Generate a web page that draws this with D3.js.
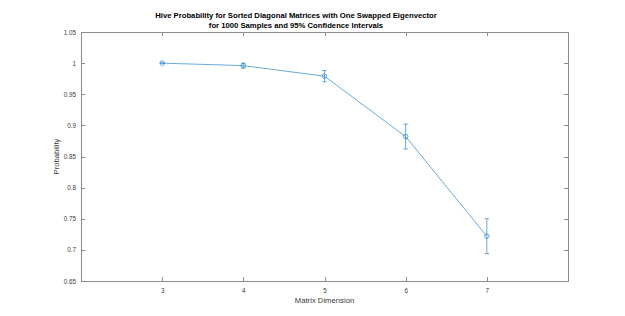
<!DOCTYPE html>
<html><head><meta charset="utf-8">
<script src="https://cdn.jsdelivr.net/npm/d3@7"></script>
<style>body{margin:0;background:#fff}svg{display:block}text{font-family:"Liberation Sans",Arial,sans-serif}</style>
</head><body><svg id="c" width="625" height="316"></svg>
<script>
const dims = [3, 4, 5, 6, 7];
const probs = [1.0, 0.996, 0.979, 0.882, 0.722];
const errs = [0.0, 0.004, 0.009, 0.020, 0.028];
const xTicks = [3, 4, 5, 6, 7];
const yTicks = [0.65, 0.7, 0.75, 0.8, 0.85, 0.9, 0.95, 1, 1.05];
const titleLines = ["Hive Probability for Sorted Diagonal Matrices with One Swapped Eigenvector", "for 1000 Samples and 95% Confidence Intervals"];

const svg = d3.select("#c");
const L = 81, R = 568, T = 32, B = 281;
const x = d3.scaleLinear().domain([2, 8]).range([L, R]);
const y = d3.scaleLinear().domain([0.65, 1.05]).range([B, T]);
const axisCol = "#8c8c8c", textCol = "#3a3a3a", lineCol = "#2a84c8";

svg.append("rect").attr("x", L).attr("y", T).attr("width", R - L).attr("height", B - T)
  .attr("fill", "none").attr("stroke", axisCol).attr("stroke-width", 1).attr("shape-rendering", "crispEdges");

const fmt = d => String(+d.toFixed(2));
const gx = svg.append("g").attr("transform", `translate(0,${B})`)
  .call(d3.axisBottom(x).tickValues(xTicks).tickSizeInner(-4).tickSizeOuter(0).tickPadding(8).tickFormat(d3.format("d")));
const gxt = svg.append("g").attr("transform", `translate(0,${T})`)
  .call(d3.axisTop(x).tickValues(xTicks).tickSizeInner(-4).tickSizeOuter(0).tickFormat(""));
const gy = svg.append("g").attr("transform", `translate(${L},0)`)
  .call(d3.axisLeft(y).tickValues(yTicks).tickSizeInner(-4).tickSizeOuter(0).tickPadding(5).tickFormat(fmt));
const gyr = svg.append("g").attr("transform", `translate(${R},0)`)
  .call(d3.axisRight(y).tickValues(yTicks).tickSizeInner(-4).tickSizeOuter(0).tickFormat(""));
[gx, gxt, gy, gyr].forEach(g => {
  g.select(".domain").remove();
  g.selectAll(".tick line").attr("stroke", axisCol).attr("shape-rendering", "crispEdges");
  g.selectAll("text").attr("fill", textCol).attr("font-size", 6.3);
});

svg.append("text").attr("x", (L + R) / 2).attr("y", 303).attr("text-anchor", "middle")
  .attr("font-size", 7.7).attr("fill", textCol).text("Matrix Dimension");
svg.append("text").attr("transform", `translate(59,${(T + B) / 2}) rotate(-90)`).attr("text-anchor", "middle")
  .attr("font-size", 7.7).attr("fill", textCol).text("Probability");
titleLines.forEach((t, i) => {
  svg.append("text").attr("x", 296).attr("y", 17.5 + i * 10).attr("text-anchor", "middle")
    .attr("font-size", 7.7).attr("font-weight", "bold").attr("fill", "#000").text(t);
});

const data = dims.map((d, i) => ({d, p: probs[i], e: errs[i]}));
svg.append("path").datum(data).attr("fill", "none").attr("stroke", lineCol).attr("stroke-width", 0.7)
  .attr("d", d3.line().x(v => x(v.d)).y(v => y(v.p)));
const eb = svg.append("g").attr("stroke", lineCol).attr("stroke-width", 0.7).attr("fill", "none");
data.forEach(v => {
  const x0 = x(v.d), y1 = y(v.p + v.e), y2 = y(v.p - v.e);
  eb.append("line").attr("x1", x0).attr("x2", x0).attr("y1", y1).attr("y2", y2);
  eb.append("line").attr("x1", x0 - 2.2).attr("x2", x0 + 2.2).attr("y1", y1).attr("y2", y1);
  eb.append("line").attr("x1", x0 - 2.2).attr("x2", x0 + 2.2).attr("y1", y2).attr("y2", y2);
  eb.append("circle").attr("cx", x0).attr("cy", y(v.p)).attr("r", 2.3);
});
</script></body></html>
